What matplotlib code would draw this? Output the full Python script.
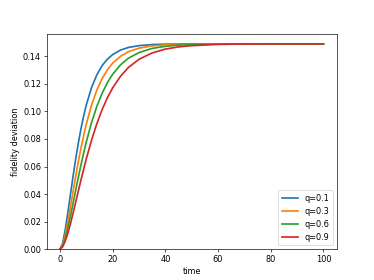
import matplotlib
matplotlib.use("Agg")
import matplotlib.pyplot as plt

# values
time = [0, 1, 2, 3, 4, 5, 6, 7, 8, 9, 10, 12, 14, 16, 18, 20, 23, 26, 30, 35, 40, 45, 50, 60, 70, 80, 90, 100]
q_labels = ["q=0.1", "q=0.3", "q=0.6", "q=0.9"]

dev_q01 = [0, 0.0041, 0.0139, 0.0264, 0.0398, 0.0531, 0.0657, 0.0772, 0.0875, 0.0966, 0.1046,
           0.1173, 0.1265, 0.1332, 0.1379, 0.1412, 0.1445, 0.1464, 0.1477, 0.1485, 0.1488, 0.1489,
           0.1490, 0.1490, 0.1490, 0.1490, 0.1490, 0.1490]
dev_q03 = [0, 0.0030, 0.0102, 0.0199, 0.0308, 0.0420, 0.0531, 0.0637, 0.0735, 0.0825, 0.0907,
           0.1046, 0.1154, 0.1238, 0.1301, 0.1350, 0.1400, 0.1433, 0.1459, 0.1475, 0.1483, 0.1487,
           0.1488, 0.1490, 0.1490, 0.1490, 0.1490, 0.1490]
dev_q06 = [0, 0.0022, 0.0076, 0.0152, 0.0240, 0.0334, 0.0429, 0.0523, 0.0613, 0.0698, 0.0778,
           0.0919, 0.1036, 0.1131, 0.1208, 0.1269, 0.1338, 0.1386, 0.1427, 0.1457, 0.1472, 0.1481,
           0.1485, 0.1489, 0.1490, 0.1490, 0.1490, 0.1490]
dev_q09 = [0, 0.0016, 0.0057, 0.0115, 0.0185, 0.0262, 0.0342, 0.0423, 0.0503, 0.0580, 0.0655,
           0.0791, 0.0910, 0.1012, 0.1099, 0.1170, 0.1255, 0.1319, 0.1378, 0.1424, 0.1452, 0.1468,
           0.1477, 0.1486, 0.1489, 0.1490, 0.1490, 0.1490]

series = [dev_q01, dev_q03, dev_q06, dev_q09]

fig, ax = plt.subplots(figsize=(374 / 58.4, 280 / 58.4), dpi=58.4)
for vals, lab in zip(series, q_labels):
    ax.plot(time, vals, label=lab, linewidth=2.1)

ax.set_ylim(bottom=0)
ax.set_xlabel("time")
ax.set_ylabel("fidelity deviation")
ax.legend(loc="lower right")

fig.savefig("out.png", dpi=58.4)
